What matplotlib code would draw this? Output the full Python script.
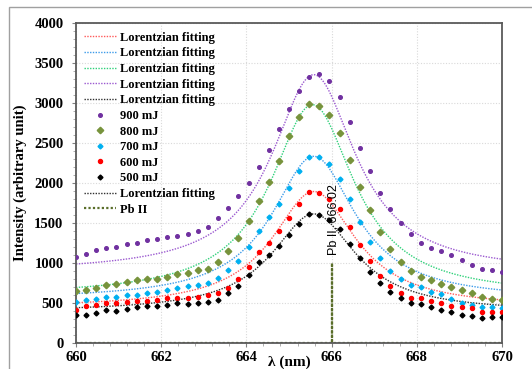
import numpy as np
import matplotlib
matplotlib.use("Agg")
import matplotlib.pyplot as plt
from matplotlib.patches import Rectangle
from matplotlib.ticker import MultipleLocator

# wavelength grid of the measured points (nm)
wavelength = [660.00, 660.24, 660.48, 660.71, 660.95, 661.19, 661.43, 661.67,
              661.90, 662.14, 662.38, 662.62, 662.86, 663.10, 663.33, 663.57,
              663.81, 664.05, 664.29, 664.52, 664.76, 665.00, 665.24, 665.48,
              665.71, 665.95, 666.19, 666.43, 666.67, 666.90, 667.14, 667.38,
              667.62, 667.86, 668.10, 668.33, 668.57, 668.81, 669.05, 669.29,
              669.52, 669.76, 670.00]

mj_900 = [1075, 1112, 1157, 1188, 1198, 1230, 1250, 1280, 1298, 1315, 1338,
          1356, 1398, 1448, 1555, 1680, 1834, 1995, 2190, 2409, 2671, 2925,
          3152, 3320, 3355, 3269, 3067, 2755, 2434, 2146, 1875, 1675, 1500,
          1363, 1252, 1188, 1140, 1092, 1032, 971, 923, 911, 886]
mj_800 = [642, 657, 680, 717, 734, 763, 786, 794, 792, 821, 859, 875, 903,
          917, 1011, 1150, 1311, 1519, 1770, 2003, 2275, 2580, 2815, 2986,
          2963, 2844, 2617, 2288, 1950, 1657, 1384, 1171, 1013, 900, 825, 784,
          734, 692, 659, 617, 575, 550, 534]
mj_700 = [508, 534, 546, 571, 577, 590, 596, 619, 634, 661, 680, 709, 719,
          748, 813, 903, 1025, 1194, 1400, 1575, 1730, 1938, 2150, 2315, 2323,
          2236, 2048, 1795, 1505, 1257, 1055, 900, 792, 721, 692, 638, 605,
          542, 492, 471, 450, 450, 438]
mj_600 = [413, 459, 475, 502, 502, 511, 519, 527, 538, 554, 556, 556, 569,
          596, 625, 684, 796, 942, 1128, 1245, 1398, 1557, 1734, 1885, 1875,
          1800, 1671, 1442, 1221, 1015, 834, 709, 625, 559, 555, 525, 492, 463,
          450, 430, 388, 388, 384]
mj_500 = [340, 346, 373, 409, 396, 423, 446, 455, 463, 475, 490, 484, 490,
          505, 534, 617, 713, 842, 1005, 1096, 1209, 1350, 1488, 1605, 1600,
          1530, 1421, 1234, 1055, 888, 742, 638, 555, 492, 480, 442, 409, 380,
          346, 334, 305, 325, 325]

energies = ["900 mJ", "800 mJ", "700 mJ", "600 mJ", "500 mJ"]
series = [mj_900, mj_800, mj_700, mj_600, mj_500]

# Lorentzian fit parameters (same order)
fit_center = [665.58, 665.55, 665.58, 665.58, 665.58]
fit_hwhm = [1.2, 1.2, 1.2, 1.2, 1.2]
fit_height = [2476, 2392, 1795, 1455, 1227]
fit_base = [874, 583, 535, 435, 383]

# Pb II reference line
pb_x = [660.0, 666.02, 666.02, 666.02, 670.0]
pb_y = [0, 0, 1000, 0, 0]

point_colors = ["#7030a0", "#77933c", "#00b0f0", "#ff0000", "#000000"]
point_markers = ["o", "D", "D", "o", "D"]
point_sizes = [2.6, 3.3, 2.5, 2.9, 2.5]
fit_colors = ["#9b59d0", "#2fd17a", "#3d9be9", "#ff5a5a", "#303030"]

serif = "Liberation Serif"

fig = plt.figure(figsize=(5.32, 3.69), dpi=100)
ax = fig.add_axes([0.1429, 0.0713, 0.8007, 0.8672])

xs = np.linspace(660, 670, 400)
fit_lines = []
for c, w, h, b, col in zip(fit_center, fit_hwhm, fit_height, fit_base, fit_colors):
    ys = b + h * w ** 2 / ((xs - c) ** 2 + w ** 2)
    ln, = ax.plot(xs, ys, color=col, lw=1.0, ls=(0, (1, 1)), zorder=2)
    fit_lines.append(ln)

pb_line, = ax.plot(pb_x, pb_y, color="#5a6e2a", lw=1.6, ls=(0, (1, 1)), zorder=2)

point_handles = []
for ys, lab, col, mk, ms in zip(series, energies, point_colors, point_markers, point_sizes):
    h, = ax.plot(wavelength, ys, ls="none", marker=mk, ms=ms, color=col,
                 mec=col, label=lab, zorder=3)
    point_handles.append(h)

ax.text(666.02 + 0.03, 1100, "Pb II, 666.02", rotation=90, ha="center",
        va="bottom", fontsize=9, family="Liberation Sans", zorder=4)

ax.set_xlim(660, 670)
ax.set_ylim(0, 4000)
ax.xaxis.set_major_locator(MultipleLocator(2))
ax.xaxis.set_minor_locator(MultipleLocator(0.4))
ax.yaxis.set_major_locator(MultipleLocator(500))
ax.yaxis.set_minor_locator(MultipleLocator(100))
ax.grid(True, which="major", color="#d9d9d9", ls=(0, (1, 1.5)), lw=0.8)
ax.set_axisbelow(True)

for sp in ax.spines.values():
    sp.set_color("#5a5a5a")
    sp.set_linewidth(1.3)
ax.tick_params(which="major", direction="out", length=3, width=0.8,
               color="#808080")
ax.tick_params(axis="y", which="major", pad=6)
ax.tick_params(axis="x", which="major", pad=3)
ax.tick_params(which="minor", direction="out", length=2, width=0.6,
               color="#a0a0a0")
for lab in ax.get_xticklabels() + ax.get_yticklabels():
    lab.set_fontfamily(serif)
    lab.set_fontweight("bold")
    lab.set_fontsize(10.5)

fig.text(289 / 532, 1 - 362 / 369, "\u03bb (nm)", fontfamily=serif,
         fontweight="bold", fontsize=11, ha="center", va="center")
ax.set_ylabel("Intensity (arbitrary unit)", fontfamily=serif,
              fontweight="bold", fontsize=10.5, labelpad=5)

handles = [fit_lines[3], fit_lines[2], fit_lines[1], fit_lines[0], fit_lines[4]]
labels = ["Lorentzian fitting"] * 5
handles += point_handles
labels += energies
handles += [fit_lines[4], pb_line]
labels += ["Lorentzian fitting", "Pb II"]

leg = ax.legend(handles, labels, loc="upper left", frameon=False,
                prop={"family": serif, "weight": "bold", "size": 9},
                numpoints=1, handlelength=2.6, handletextpad=0.3,
                labelspacing=0.29, borderaxespad=0.2,
                bbox_to_anchor=(0.0, 0.995))

fig.add_artist(Rectangle((9 / 532, -0.05), 1.2, 1 - 7 / 369 + 0.05,
                         transform=fig.transFigure, fill=False,
                         edgecolor="#a0a0a0", lw=1.0))

fig.savefig("out.png", dpi=100)
